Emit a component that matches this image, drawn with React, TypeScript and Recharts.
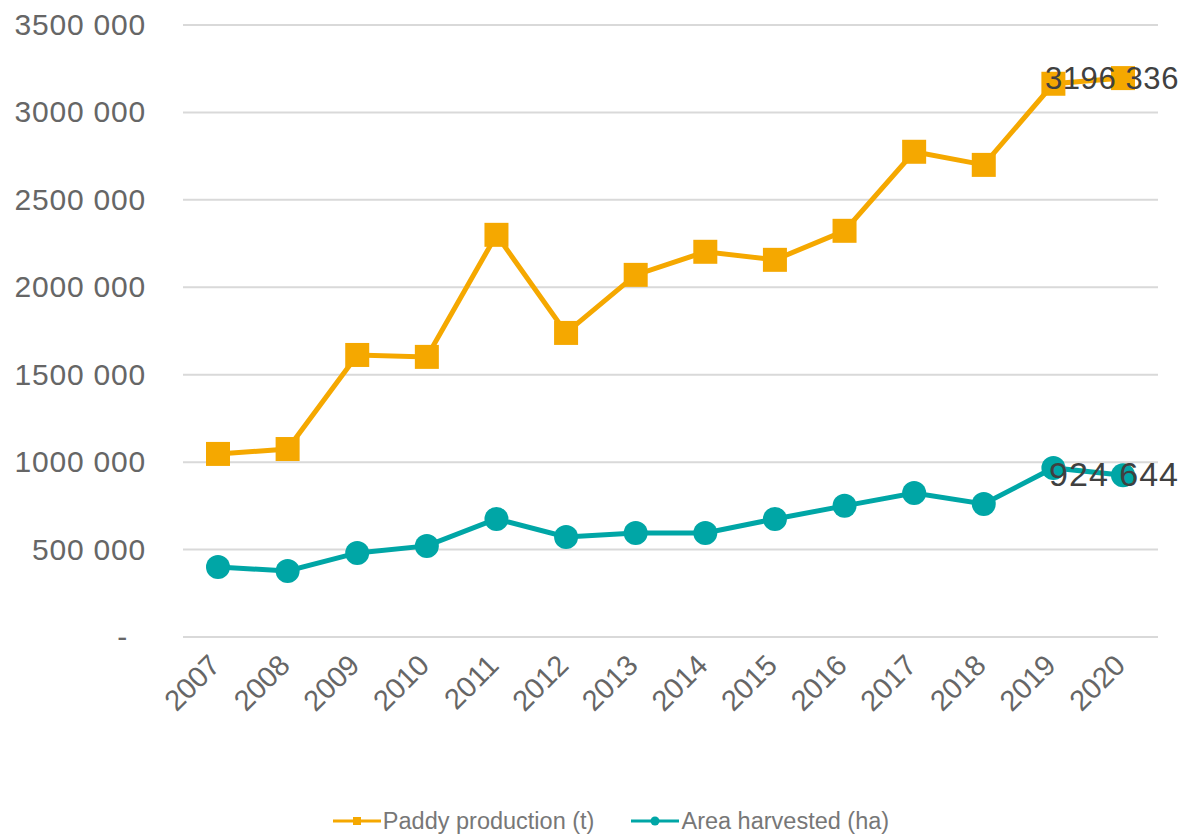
import React from "react";
import { CartesianGrid, Legend, Line, LineChart, XAxis, YAxis } from "recharts";

const YEARS = ["2007", "2008", "2009", "2010", "2011", "2012", "2013", "2014", "2015", "2016", "2017", "2018", "2019", "2020"];
const PADDY = [1047000, 1075000, 1613000, 1602000, 2300000, 1739000, 2071000, 2203000, 2157000, 2323000, 2775000, 2700000, 3164000, 3196336];
const AREA = [400000, 378000, 481000, 521000, 675000, 572000, 595000, 595000, 675000, 750000, 824000, 761000, 967000, 924644];
const Y_TICKS = [0, 500000, 1000000, 1500000, 2000000, 2500000, 3000000, 3500000];

const ORANGE = "#F5A800";
const TEAL = "#00A6A6";
const FONT = "'Liberation Sans', Arial, sans-serif";

const data = YEARS.map((year, i) => ({ year, paddy: PADDY[i], area: AREA[i] }));

const fmt = (v: number) => {
  if (v === 0) return "-";
  const s = String(Math.round(v));
  return s.slice(0, s.length - 3) + " " + s.slice(-3);
};

function YTick({ x, y, payload }: any) {
  const zero = payload.value === 0;
  return (
    <text x={zero ? x - 18 : x} y={y} dy={10} textAnchor="end" fill="#666" fontSize={30} letterSpacing={0.8} fontFamily={FONT}>
      {fmt(payload.value)}
    </text>
  );
}

function XTick({ x, y, payload }: any) {
  return (
    <text x={x + 4} y={y + 22} textAnchor="end" fill="#666" fontSize={29} fontFamily={FONT} transform={`rotate(-45 ${x + 4} ${y + 22})`}>
      {payload.value}
    </text>
  );
}

// only the last point carries a value label, like the source
function lastLabel(values: number[], size: number, spacing: number) {
  return ({ x, y, index }: any) =>
    index === values.length - 1 ? (
      <text x={x + 56} y={y + 11} textAnchor="end" fill="#404040" fontSize={size} letterSpacing={spacing} fontFamily={FONT}>
        {fmt(values[index])}
      </text>
    ) : null;
}

function Square({ cx, cy }: any) {
  return <rect x={cx - 12} y={cy - 12} width={24} height={24} fill={ORANGE} />;
}

function LegendBox() {
  const items = [
    { name: "Paddy production (t)", color: ORANGE, square: true },
    { name: "Area harvested (ha)", color: TEAL, square: false },
  ];
  return (
    <div style={{ display: "flex", justifyContent: "center", gap: 37, height: 26, alignItems: "center", paddingLeft: 64, fontFamily: FONT, fontSize: 23.5, color: "#777" }}>
      {items.map((it) => (
        <div key={it.name} style={{ display: "flex", alignItems: "center" }}>
          <svg width={48} height={14} style={{ marginRight: 2 }}>
            <line x1={0} y1={7} x2={48} y2={7} stroke={it.color} strokeWidth={3} />
            {it.square ? <rect x={20} y={3} width={8} height={8} fill={it.color} /> : <circle cx={24} cy={7} r={4.5} fill={it.color} />}
          </svg>
          <span>{it.name}</span>
        </div>
      ))}
    </div>
  );
}

export default function App() {
  return (
    <div style={{ position: "absolute", left: 0, top: 0, background: "#fff" }}>
      <LineChart width={1187} height={834} data={data} margin={{ top: 25, right: 29, left: 0, bottom: 0 }}>
        <CartesianGrid stroke="#d9d9d9" strokeWidth={2} vertical={false} />
        <XAxis dataKey="year" height={171} padding={{ left: 35, right: 35 }} axisLine={{ stroke: "#d9d9d9", strokeWidth: 2 }} tickLine={false} interval={0} tick={<XTick />} />
        <YAxis width={183} domain={[0, 3500000]} ticks={Y_TICKS} axisLine={false} tickLine={false} tickSize={0} tickMargin={37} tick={<YTick />} />
        <Legend verticalAlign="bottom" height={26} content={<LegendBox />} />
        <Line dataKey="paddy" name="Paddy production (t)" stroke={ORANGE} strokeWidth={5} dot={<Square />} label={lastLabel(PADDY, 31, 0.6)} isAnimationActive={false} />
        <Line dataKey="area" name="Area harvested (ha)" stroke={TEAL} strokeWidth={5} dot={{ r: 12, fill: TEAL, stroke: TEAL, strokeWidth: 0 }} label={lastLabel(AREA, 34, 1)} isAnimationActive={false} />
      </LineChart>
    </div>
  );
}
